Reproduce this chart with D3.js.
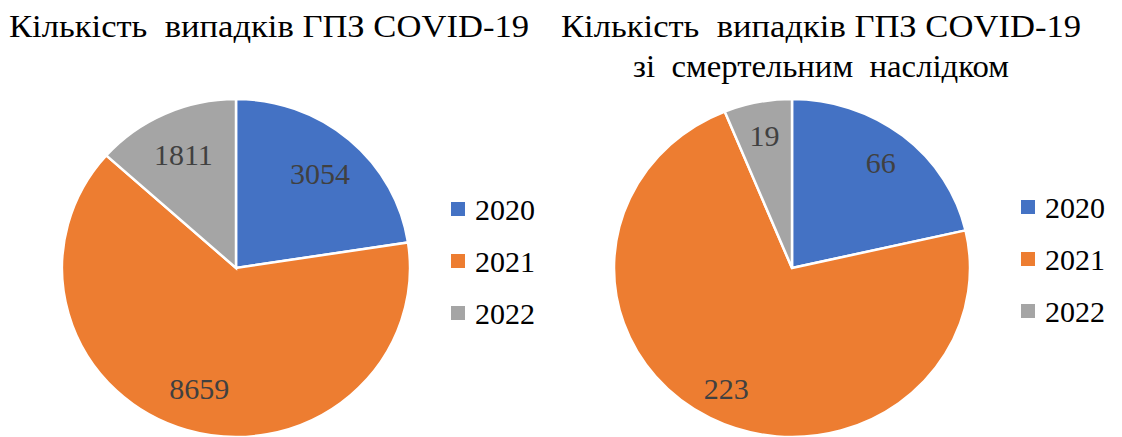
<!DOCTYPE html>
<html>
<head>
<meta charset="utf-8">
<script src="https://cdn.jsdelivr.net/npm/d3@7"></script>
<style>
  body { margin: 0; font-family: "Liberation Serif", Tinos, "Times New Roman", Times, FreeSerif; }
  svg text { font-family: "Liberation Serif", Tinos, "Times New Roman", Times, FreeSerif; }
</style>
</head>
<body>
<script>
// data
var years = ["2020", "2021", "2022"];
var casesAll = [3054, 8659, 1811];
var casesFatal = [66, 223, 19];
var titleAll = ["Кількість  випадків ГПЗ COVID-19"];
var titleFatal = ["Кількість  випадків ГПЗ COVID-19", "зі  смертельним  наслідком"];
var colors = ["#4472C4", "#ED7D31", "#A5A5A5"];

var width = 1122, height = 437;
var serif = "'Liberation Serif', Tinos, 'Times New Roman', Times, FreeSerif";

var svg = d3.select("body")
  .append("svg")
  .attr("width", width)
  .attr("height", height)
  .style("font-family", serif);

var color = d3.scaleOrdinal().domain(years).range(colors);

function addText(cls, data) {
  return svg.selectAll("text." + cls)
    .data(data)
    .enter().append("text")
    .attr("class", cls)
    .attr("font-family", serif)
    .style("font-family", serif)
    .style("font-size", "30px");
}

function drawPie(key, values, title, opts) {
  // title lines, stretched to the width they have in the picture
  addText("title" + key, title)
    .attr("x", opts.titleX)
    .attr("y", function(d, i) { return opts.titleY + i * 40; })
    .attr("text-anchor", "middle")
    .attr("xml:space", "preserve")
    .attr("textLength", function(d, i) { return opts.titleW[i]; })
    .attr("lengthAdjust", "spacingAndGlyphs")
    .style("font-size", "32px")
    .text(function(d) { return d; });

  var data = years.map(function(y, i) { return {year: y, value: values[i]}; });

  var pie = d3.pie()
    .sort(null)
    .value(function(d) { return d.value; });

  var arc = d3.arc().innerRadius(0).outerRadius(opts.r);
  var labelArc = d3.arc().innerRadius(opts.r * opts.labelPos).outerRadius(opts.r * opts.labelPos);

  var sx = opts.rx / opts.r;

  var pieG = svg.append("g")
    .attr("transform", "translate(" + opts.cx + "," + opts.cy + ") scale(" + sx + ",1)");

  var arcs = pie(data);

  pieG.selectAll("path")
    .data(arcs)
    .enter().append("path")
    .attr("d", arc)
    .style("fill", function(d) { return color(d.data.year); })
    .style("stroke", "#fff")
    .style("stroke-width", 2.5)
    .attr("vector-effect", "non-scaling-stroke");

  // value labels (not scaled, so the text keeps its shape)
  addText("val" + key, arcs)
    .attr("x", function(d) { return opts.cx + labelArc.centroid(d)[0] * sx; })
    .attr("y", function(d) { return opts.cy + labelArc.centroid(d)[1] + 11; })
    .attr("text-anchor", "middle")
    .attr("fill", "#404040")
    .text(function(d) { return d.data.value; });

  // legend
  svg.selectAll("rect.leg" + key)
    .data(years)
    .enter().append("rect")
    .attr("class", "leg" + key)
    .attr("x", opts.legX)
    .attr("y", function(d, i) { return opts.legY + i * 52 - 7; })
    .attr("width", 14)
    .attr("height", 14)
    .style("fill", function(d) { return color(d); });

  addText("legtext" + key, years)
    .attr("x", opts.legX + 24)
    .attr("y", function(d, i) { return opts.legY + i * 52 + 11; })
    .text(function(d) { return d; });
}

drawPie("a", casesAll, titleAll, {
  cx: 236, cy: 268, r: 169, rx: 174, labelPos: 0.74,
  titleX: 269, titleY: 37, titleW: [520], legX: 451, legY: 209
});

drawPie("b", casesFatal, titleFatal, {
  cx: 792, cy: 268, r: 169, rx: 178, labelPos: 0.8,
  titleX: 821, titleY: 37, titleW: [520, 376], legX: 1021, legY: 207
});
</script>
</body>
</html>
